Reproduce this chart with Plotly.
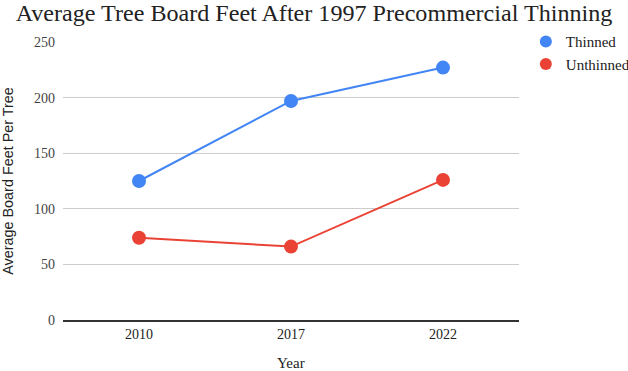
import plotly.graph_objects as go

years = ["2010", "2017", "2022"]
thinned = [125, 197, 227]
unthinned = [74, 66, 126]
y_ticks = [0, 50, 100, 150, 200, 250]

series = [("Thinned", thinned, "#4285f4"), ("Unthinned", unthinned, "#ea4335")]

fig = go.Figure()
for name, vals, col in series:
    fig.add_trace(go.Scatter(x=years, y=vals, name=name, mode="lines", showlegend=False,
                             line=dict(color=col, width=2), hoverinfo="skip"))
for name, vals, col in series:
    fig.add_trace(go.Scatter(x=years, y=vals, name=name, mode="markers",
                             marker=dict(size=14, color=col)))

serif = "Liberation Serif, serif"
fig.update_layout(
    width=628, height=371,
    margin=dict(l=63, r=109, t=42, b=51, autoexpand=False),
    paper_bgcolor="white", plot_bgcolor="white",
    title=dict(text="Average Tree Board Feet After 1997 Precommercial Thinning",
               x=0.5, xanchor="center", y=0.99, yanchor="top",
               font=dict(family=serif, size=24.1, color="#222")),
    xaxis=dict(type="category", range=[-0.5, 2.5], showgrid=False,
               tickfont=dict(family=serif, size=14, color="#222"),
               showline=True, linecolor="#333", linewidth=2, ticks=""),
    yaxis=dict(range=[0, 250], tickvals=y_ticks, showgrid=True, gridcolor="#cccccc", gridwidth=1,
               zeroline=False, showline=False, ticks="", ticklabelstandoff=7,
               tickfont=dict(family=serif, size=14, color="#444"),
               title=dict(text="Average Board Feet Per Tree",
                          font=dict(family="Liberation Sans, Arial, sans-serif", size=14.4, color="#222"),
                          standoff=23)),
    legend=dict(x=1.015, y=1.06, xanchor="left", yanchor="top",
                font=dict(family=serif, size=15, color="#222"),
                itemsizing="constant", tracegroupgap=0, itemwidth=30),
    showlegend=True,
)
fig.add_annotation(text="Year", xref="paper", yref="paper", x=0.5, y=0,
                   xanchor="center", yanchor="middle", yshift=-43, showarrow=False,
                   font=dict(family=serif, size=15, color="#222"))
fig.write_html("out.html", config={"displayModeBar": False},
               post_script="document.body.style.margin='0';")
